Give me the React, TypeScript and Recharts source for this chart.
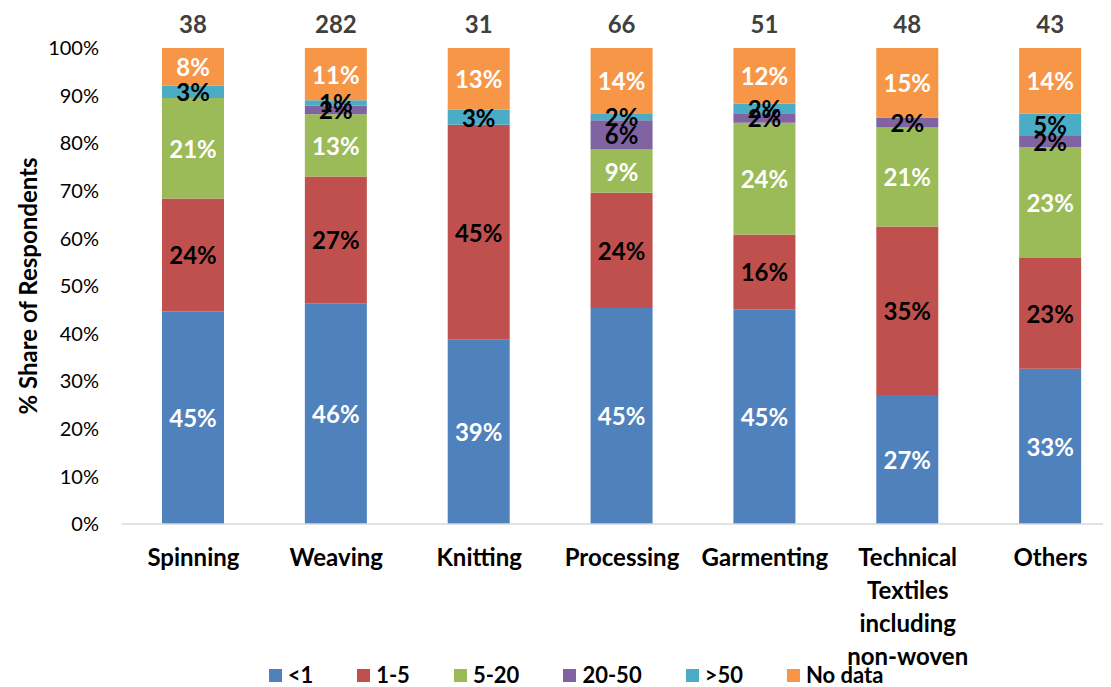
import React from "react";
import { BarChart, Bar, XAxis, YAxis, Legend, LabelList } from "recharts";

const sectors = [
  "Spinning",
  "Weaving",
  "Knitting",
  "Processing",
  "Garmenting",
  "Technical Textiles including non-woven",
  "Others",
];
const respondents = [38, 282, 31, 66, 51, 48, 43];

// share of respondents per size band (%)
const lessThan1 = [44.7, 46.4, 38.7, 45.4, 45.1, 27.1, 32.6];
const from1to5 = [23.7, 26.6, 45.2, 24.2, 15.7, 35.4, 23.3];
const from5to20 = [21.1, 13.1, 0, 9.1, 23.5, 20.8, 23.3];
const from20to50 = [0, 1.8, 0, 6.1, 2.0, 2.1, 2.3];
const over50 = [2.6, 1.1, 3.2, 1.5, 2.0, 0, 4.7];
const noData = [7.9, 11.0, 12.9, 13.7, 11.7, 14.6, 13.8];

const yTicks = [0, 10, 20, 30, 40, 50, 60, 70, 80, 90, 100];

const FONT = "Lato, 'Open Sans', sans-serif";

const series = [
  { key: "lt1", name: "<1", values: lessThan1, fill: "#4F81BD", text: "#fff" },
  { key: "r1", name: "1-5", values: from1to5, fill: "#C0504D", text: "#000" },
  { key: "r5", name: "5-20", values: from5to20, fill: "#9BBB59", text: "#fff" },
  { key: "r20", name: "20-50", values: from20to50, fill: "#8064A2", text: "#000" },
  { key: "gt50", name: ">50", values: over50, fill: "#4BACC6", text: "#000" },
  { key: "nd", name: "No data", values: noData, fill: "#F79646", text: "#fff" },
];

const data = sectors.map((sector, i) => {
  const row: Record<string, any> = { sector, n: respondents[i] };
  series.forEach((s) => (row[s.key] = s.values[i]));
  return row;
});

const SectorTick = (props: any) => {
  const { x, y, payload } = props;
  const lines = String(payload.value).split(" ");
  return (
    <text x={x} y={y + 34} textAnchor="middle" fontFamily={FONT} fontWeight="bold" fontSize={24} fill="#000">
      {lines.map((l, i) => (
        <tspan key={i} x={x} dy={i === 0 ? 0 : 33}>
          {l}
        </tspan>
      ))}
    </text>
  );
};

const segmentLabel = (color: string) => (props: any) => {
  const { x, y, width, height, value } = props;
  if (!value) return null;
  return (
    <text
      x={x + width / 2}
      y={y + height / 2}
      textAnchor="middle"
      dominantBaseline="central"
      fontFamily={FONT}
      fontWeight="bold"
      fontSize={24}
      fill={color}
    >
      {Math.round(value)}%
    </text>
  );
};

const countLabel = (props: any) => {
  const { x, y, width, index } = props;
  return (
    <text
      x={x + width / 2}
      y={y - 25}
      textAnchor="middle"
      dominantBaseline="central"
      fontFamily={FONT}
      fontWeight="bold"
      fontSize={24}
      fill="#404040"
    >
      {respondents[index]}
    </text>
  );
};

const LegendBox = () => (
  <div
    style={{
      display: "flex",
      justifyContent: "center",
      gap: 44,
      fontFamily: FONT,
      fontWeight: "bold",
      fontSize: 22,
      lineHeight: "24px",
      paddingRight: 18,
      marginTop: 2,
    }}
  >
    {series.map((s) => (
      <div key={s.key} style={{ display: "flex", alignItems: "center", gap: 6 }}>
        <span style={{ width: 13, height: 13, background: s.fill, display: "inline-block" }} />
        <span>{s.name}</span>
      </div>
    ))}
  </div>
);

const YTitle = (props: any) => {
  const { viewBox } = props;
  const cy = viewBox.y + viewBox.height / 2;
  return (
    <text
      x={19}
      y={cy}
      transform={`rotate(-90, 19, ${cy})`}
      textAnchor="middle"
      dominantBaseline="central"
      fontFamily={FONT}
      fontWeight="bold"
      fontSize={24}
      fill="#000"
    >
      % Share of Respondents
    </text>
  );
};

export default function App() {
  return (
    <div style={{ width: 1103, height: 679, overflow: "hidden" }}>
      <BarChart width={1120} height={679} data={data} margin={{ top: 40, right: 6, left: 40, bottom: 0 }} barSize={62}>
        <XAxis
          dataKey="sector"
          tick={<SectorTick />}
          tickLine={false}
          axisLine={{ stroke: "#d9d9d9", strokeWidth: 1.5 }}
          interval={0}
          height={137}
        />
        <YAxis
          domain={[0, 100]}
          ticks={yTicks}
          tickFormatter={(v) => `${v}%`}
          tickLine={false}
          axisLine={false}
          width={74}
          tickMargin={17}
          tick={{ fontFamily: FONT, fontSize: 20, fill: "#000" }}
          label={<YTitle />}
        />
        <Legend verticalAlign="bottom" content={<LegendBox />} />
        {series.map((s) => (
          <Bar key={s.key} dataKey={s.key} name={s.name} stackId="a" fill={s.fill} isAnimationActive={false}>
            <LabelList dataKey={s.key} content={segmentLabel(s.text)} />
            {s.key === "nd" && <LabelList dataKey="n" content={countLabel} />}
          </Bar>
        ))}
      </BarChart>
    </div>
  );
}
